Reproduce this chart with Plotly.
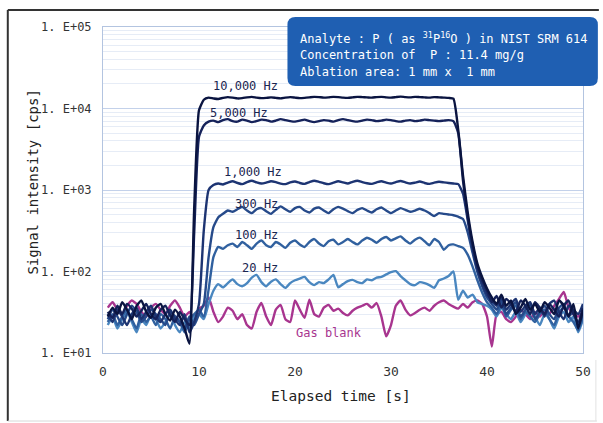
import math
import plotly.graph_objects as go

time_s = [0.5, 1.0, 1.5, 2.0, 2.5, 3.0, 3.5, 4.0, 4.5, 5.0,
          5.5, 6.0, 6.5, 7.0, 7.5, 8.0, 8.5, 9.0, 9.5, 10.0,
          10.5, 11.0, 11.5, 12.0, 12.5, 13.0, 13.5, 14.0, 14.5, 15.0,
          15.5, 16.0, 16.5, 17.0, 17.5, 18.0, 18.5, 19.0, 19.5, 20.0,
          20.5, 21.0, 21.5, 22.0, 22.5, 23.0, 23.5, 24.0, 24.5, 25.0,
          25.5, 26.0, 26.5, 27.0, 27.5, 28.0, 28.5, 29.0, 29.5, 30.0,
          30.5, 31.0, 31.5, 32.0, 32.5, 33.0, 33.5, 34.0, 34.5, 35.0,
          35.5, 36.0, 36.5, 37.0, 37.5, 38.0, 38.5, 39.0, 39.5, 40.0,
          40.5, 41.0, 41.5, 42.0, 42.5, 43.0, 43.5, 44.0, 44.5, 45.0,
          45.5, 46.0, 46.5, 47.0, 47.5, 48.0, 48.5, 49.0, 49.5, 50.0]

hz_10000 = [28, 36, 30, 42, 34, 26, 38, 44, 32, 27,
            36, 40, 30, 25, 34, 28, 20, 13, 600, 9500,
            12800, 13600, 13300, 13100, 13500, 13800, 13600, 13300, 13400, 13700,
            13900, 13600, 13400, 13500, 13700, 13500, 13300, 13600, 13800, 13600,
            13400, 13500, 13700, 13900, 13800, 13600, 13700, 13900, 13800, 13600,
            13500, 13700, 13900, 13800, 13700, 13600, 13800, 13900, 13700, 13600,
            13800, 14000, 13800, 13700, 13900, 13800, 13700, 13600, 13800, 13700,
            13600, 13500, 13200, 5500, 1500, 520, 230, 125, 85, 62,
            48, 40, 52, 38, 44, 30, 36, 46, 34, 40,
            32, 42, 36, 30, 44, 38, 28, 40, 20, 34]

hz_5000 = [32, 27, 38, 30, 40, 35, 28, 33, 40, 30,
           26, 34, 38, 29, 24, 32, 26, 22, 300, 4500,
           6200, 6900, 7100, 6800, 7200, 7400, 7000, 6900, 7300, 7100,
           6800, 7000, 7300, 7200, 6900, 7100, 7400, 7200, 7000, 6900,
           7100, 7300, 7000, 6800, 7000, 7200, 7100, 6900, 7200, 7400,
           7200, 7000, 6900, 7100, 7300, 7200, 7000, 7100, 7300, 7200,
           7000, 6900, 7100, 7200, 7000, 7100, 7300, 7200, 7100, 7000,
           7100, 7200, 7000, 5000, 1300, 460, 210, 115, 78, 58,
           42, 50, 36, 46, 40, 32, 44, 38, 30, 42,
           36, 30, 40, 34, 28, 38, 44, 30, 24, 36]

hz_1000 = [30, 24, 34, 28, 22, 30, 36, 26, 32, 38,
           28, 24, 30, 34, 26, 22, 30, 18, 24, 40,
           320, 1000, 1150, 1200, 1170, 1230, 1280, 1220, 1180, 1250,
           1300, 1240, 1200, 1230, 1280, 1250, 1200, 1180, 1240, 1270,
           1220, 1190, 1250, 1300, 1260, 1210, 1180, 1230, 1280, 1240,
           1200, 1260, 1300, 1250, 1210, 1190, 1240, 1280, 1230, 1200,
           1250, 1290, 1240, 1200, 1230, 1270, 1220, 1190, 1230, 1260,
           1240, 1220, 1200, 1180, 900, 420, 190, 105, 70, 52,
           44, 38, 48, 34, 40, 46, 32, 38, 42, 30,
           36, 28, 40, 44, 32, 26, 38, 34, 30, 40]

hz_300 = [26, 34, 28, 22, 30, 38, 32, 24, 28, 34,
          30, 26, 22, 32, 28, 24, 20, 28, 22, 30,
          40, 150, 350, 460, 510, 560, 540, 580, 620, 560,
          520, 580, 600, 550, 510, 570, 630, 580, 540, 600,
          620, 560, 530, 590, 610, 560, 520, 580, 620, 590,
          550, 520, 570, 600, 560, 530, 580, 610, 560, 520,
          560, 600, 570, 540, 560, 590, 560, 520, 480, 520,
          510, 500, 490, 470, 440, 300, 170, 98, 66, 48,
          40, 34, 44, 30, 36, 42, 28, 34, 40, 26,
          32, 38, 30, 26, 36, 40, 28, 32, 22, 30]

hz_100 = [24, 30, 22, 28, 34, 26, 20, 30, 24, 28,
          22, 30, 26, 20, 28, 24, 18, 26, 30, 34,
          28, 60, 150, 200, 190, 210, 220, 200, 230, 210,
          190, 220, 240, 210, 200, 230, 215, 195, 225, 240,
          215, 200, 230, 250, 220, 205, 235, 245, 215, 230,
          250, 230, 215, 240, 260, 245, 225, 250, 265, 240,
          255, 270, 240, 220, 245, 260, 235, 210, 250, 230,
          185, 210, 215, 205, 195, 160, 115, 78, 55, 42,
          36, 30, 40, 28, 34, 38, 26, 32, 28, 24,
          30, 34, 26, 22, 32, 36, 28, 24, 19, 28]

hz_20 = [22, 28, 20, 26, 32, 24, 18, 26, 22, 30,
         26, 20, 24, 30, 22, 18, 24, 20, 28, 30,
         26, 40, 58, 70, 64, 72, 80, 70, 66, 72,
         84, 91, 74, 66, 75, 80, 70, 63, 72, 78,
         82, 86, 74, 68, 74, 72, 80, 91, 64, 70,
         76, 79, 74, 72, 80, 78, 84, 86, 92, 98,
         101, 88, 78, 70, 68, 74, 72, 68, 63, 78,
         82, 88, 100, 45, 58, 48, 52, 42, 40, 38,
         34, 28, 36, 30, 26, 32, 24, 30, 36, 28,
         22, 30, 26, 20, 28, 32, 24, 28, 18, 26]

gas_blank = [36, 42, 34, 30, 38, 44, 40, 32, 28, 36,
             40, 34, 30, 38, 44, 36, 28, 32, 26, 35,
             38, 48, 32, 24, 28, 36, 33, 26, 30, 22,
             20, 32, 41, 28, 22, 34, 39, 26, 24, 44,
             34, 27, 45, 30, 28, 36, 39, 33, 35, 31,
             29, 33, 36, 38, 40, 36, 41, 28, 16, 22,
             38, 44, 34, 29, 31, 34, 36, 33, 38, 42,
             44, 40, 37, 35, 40, 36, 42, 44, 40, 28,
             12, 30, 32, 26, 24, 28, 34, 30, 26, 32,
             28, 34, 30, 38, 46, 56, 36, 30, 28, 32]

series_names = ["Gas blank", "20 Hz", "100 Hz", "300 Hz", "1,000 Hz", "5,000 Hz", "10,000 Hz"]
series_values = [gas_blank, hz_20, hz_100, hz_300, hz_1000, hz_5000, hz_10000]
series_colors = ["#a8358f", "#4a87c0", "#30609f", "#264a8a", "#1d3472", "#15225a", "#0a1440"]

y_tick_vals = [10, 100, 1000, 10000, 100000]
y_tick_text = ["1. E+01", "1. E+02", "1. E+03", "1. E+04", "1. E+05"]
x_tick_vals = [0, 10, 20, 30, 40, 50]

# label text, x (s), y (cps), colour
curve_labels = [
    ("10,000 Hz", 14.8, 18900, "#1a2550"),
    ("5,000 Hz", 14.2, 8800, "#1a2550"),
    ("1,000 Hz", 15.6, 1660, "#1a2550"),
    ("300 Hz", 16.0, 670, "#1a2550"),
    ("100 Hz", 16.0, 280, "#1a2550"),
    ("20 Hz", 16.4, 110, "#1a2550"),
    ("Gas blank", 23.5, 17.6, "#a8358f"),
]

info_lines = [
    "Analyte : P ( as <sup>31</sup>P<sup>16</sup>O ) in NIST SRM 614",
    "Concentration of  P : 11.4 mg/g",
    "Ablation area: 1 mm x  1 mm",
]

MONO = "DejaVu Sans Mono"

fig = go.Figure()
for name, vals, col in zip(series_names, series_values, series_colors):
    fig.add_trace(go.Scatter(x=time_s, y=vals, mode="lines", name=name,
                             line=dict(color=col, width=2.4, shape="spline", smoothing=0.5)))

annotations = []
for text, tx, ty, col in curve_labels:
    annotations.append(dict(x=tx, y=math.log10(ty), xref="x", yref="y", text=text,
                            showarrow=False, xanchor="center", yanchor="middle",
                            font=dict(family=MONO, size=12, color=col)))

W, H = 484.0, 326.0
def px2paper_x(px):
    return (px - 103) / W
def px2paper_y(py):
    return (353 - py) / H

for i, line in enumerate(info_lines):
    annotations.append(dict(x=px2paper_x(300), y=px2paper_y(38 + 17 * i), xref="paper", yref="paper",
                            text=line, showarrow=False, xanchor="left", yanchor="middle",
                            font=dict(family=MONO, size=12, color="white")))

annotations.append(dict(x=px2paper_x(32), y=px2paper_y(182), xref="paper", yref="paper",
                        text="Signal intensity [cps]", textangle=-90, showarrow=False,
                        xanchor="center", yanchor="middle",
                        font=dict(family=MONO, size=14, color="#222")))
annotations.append(dict(x=px2paper_x(343), y=px2paper_y(396), xref="paper", yref="paper",
                        text="Elapsed time [s]", showarrow=False,
                        xanchor="center", yanchor="middle",
                        font=dict(family=MONO, size=14.5, color="#222")))

x0, x1 = px2paper_x(289), px2paper_x(602)
y0, y1 = px2paper_y(86), px2paper_y(17)
rx, ry = 8 / W, 8 / H
box_path = (f"M {x0+rx},{y0} L {x1-rx},{y0} Q {x1},{y0} {x1},{y0+ry} "
            f"L {x1},{y1-ry} Q {x1},{y1} {x1-rx},{y1} L {x0+rx},{y1} Q {x0},{y1} {x0},{y1-ry} "
            f"L {x0},{y0+ry} Q {x0},{y0} {x0+rx},{y0} Z")

shapes = [
    dict(type="path", path=box_path, xref="paper", yref="paper",
         fillcolor="#1f5fb2", line=dict(width=0), layer="above"),
    dict(type="line", xref="paper", yref="paper", x0=px2paper_x(7), x1=px2paper_x(7),
         y0=px2paper_y(10), y1=px2paper_y(421), line=dict(color="#333", width=2)),
    dict(type="line", xref="paper", yref="paper", x0=px2paper_x(7), x1=px2paper_x(603),
         y0=px2paper_y(10), y1=px2paper_y(10), line=dict(color="#333", width=2)),
    dict(type="line", xref="paper", yref="paper", x0=px2paper_x(7), x1=px2paper_x(601),
         y0=px2paper_y(421), y1=px2paper_y(421), line=dict(color="#d8d8d8", width=1)),
    dict(type="line", xref="paper", yref="paper", x0=px2paper_x(600), x1=px2paper_x(600),
         y0=px2paper_y(360), y1=px2paper_y(421), line=dict(color="#e2e2e2", width=1)),
]

minor_vals = [m * d for d in [10, 100, 1000, 10000] for m in range(2, 10)]

fig.update_layout(
    width=603, height=423,
    margin=dict(l=103, r=16, t=27, b=70),
    paper_bgcolor="white", plot_bgcolor="white",
    showlegend=False,
    annotations=annotations, shapes=shapes,
    xaxis=dict(range=[0, 50], tickvals=x_tick_vals, showgrid=False, zeroline=False,
               showline=True, linecolor="#b3c4e0", linewidth=1, mirror=True,
               ticks="", ticklabelstandoff=6,
               tickfont=dict(family=MONO, size=13, color="#333")),
    yaxis=dict(type="log", range=[1, 5], tickvals=y_tick_vals, ticktext=y_tick_text,
               showgrid=True, gridcolor="#c3d1ea", gridwidth=1.2, zeroline=False,
               showline=True, linecolor="#b3c4e0", linewidth=1, mirror=True,
               ticks="", ticklabelstandoff=8,
               tickfont=dict(family=MONO, size=12, color="#333"),
               minor=dict(tickvals=minor_vals, showgrid=True, gridcolor="#e6ecf6", gridwidth=1, ticks="")),
)

fig.write_html("out.html")
